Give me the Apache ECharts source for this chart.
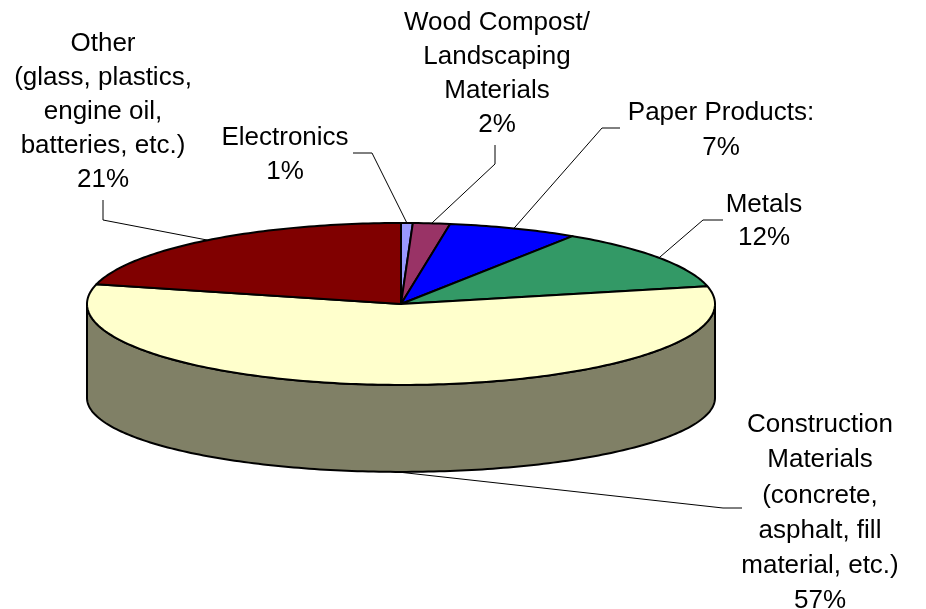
<!DOCTYPE html>
<html>
<head>
<meta charset="utf-8">
<script src="https://cdn.jsdelivr.net/npm/echarts@6/dist/echarts.min.js"></script>
<style>html,body{margin:0;padding:0;background:#fff;}#c{width:926px;height:609px;}</style>
</head>
<body>
<div id="c"></div>
<script>
// ---- data ----
const categories = ['Electronics', 'Wood Compost/Landscaping Materials', 'Paper Products', 'Metals', 'Construction Materials', 'Other'];
const values = [0.6, 1.9, 6.7, 12.3, 57.4, 21.1];
const labelNames = [
  'Electronics',
  'Wood Compost/\nLandscaping\nMaterials',
  'Paper Products:',
  'Metals',
  'Construction\nMaterials\n(concrete,\nasphalt, fill\nmaterial, etc.)',
  'Other\n(glass, plastics,\nengine oil,\nbatteries, etc.)'
];
const faceColors = ['#9999FF', '#993366', '#0000FF', '#339966', '#FFFFCC', '#800000'];

// ---- layout (pixels) ----
const labelLayout = [
  {x: 285, y: 155, lh: 34, start: [353, 153], elbow: [372, 153], side: false},
  {x: 497, y: 74,  lh: 34, start: [495, 145], elbow: [495, 164], side: false},
  {x: 721, y: 130, lh: 35, start: [620, 128], elbow: [602, 128], side: false},
  {x: 764, y: 221, lh: 33, start: [723, 220], elbow: [703, 220], side: false},
  {x: 820, y: 513, lh: 35.3, start: [742, 508], elbow: [723, 508], side: true},
  {x: 103, y: 112, lh: 34, start: [103, 200], elbow: [103, 220], side: false}
];
const DEPTH = 94 / 81;   // offset of the bottom ellipse centre (in top-ellipse radii)
const BOT = 74 / 81;     // vertical radius of bottom ellipse relative to top

const total = values.reduce((a, b) => a + b, 0);
const starts = [];
let acc = 0;
values.forEach(v => { starts.push(acc / total * 360); acc += v; });
const ends = starts.map((s, i) => s + values[i] / total * 360);

function shade(hex, f) {
  const n = parseInt(hex.slice(1), 16);
  const r = Math.round(((n >> 16) & 255) * f), g = Math.round(((n >> 8) & 255) * f), b = Math.round((n & 255) * f);
  return 'rgb(' + r + ',' + g + ',' + b + ')';
}
function arc(api, a, b, fn) {
  const pts = [];
  const steps = Math.max(2, Math.ceil((b - a) / 1));
  for (let k = 0; k <= steps; k++) {
    const t = (a + (b - a) * k / steps) * Math.PI / 180;
    pts.push(api.coord(fn(t)));
  }
  return pts;
}
const topFn = t => [Math.sin(t), Math.cos(t)];
const botFn = t => [Math.sin(t), -DEPTH + BOT * Math.cos(t)];

const seriesData = categories.map((c, i) => ({name: c, value: [0, 0, values[i]]}));

const chart = echarts.init(document.getElementById('c'), null, {renderer: 'canvas'});
chart.setOption({
  animation: false,
  backgroundColor: '#ffffff',
  grid: {left: 87, right: 211, top: 223, bottom: 135},
  xAxis: {type: 'value', min: -1, max: 1, show: false},
  yAxis: {type: 'value', min: -2.1, max: 1, show: false},
  series: [
    {
      type: 'custom', name: 'sides', z: 1, silent: true,
      data: seriesData,
      renderItem: function (params, api) {
        const i = params.dataIndex;
        const lo = Math.max(starts[i], 90), hi = Math.min(ends[i], 270);
        if (lo >= hi) return {type: 'group', children: []};
        const topPts = arc(api, lo, hi, topFn);
        const botPts = arc(api, lo, hi, botFn).reverse();
        return {
          type: 'polygon',
          shape: {points: topPts.concat(botPts)},
          style: {fill: shade(faceColors[i], 0.5), stroke: '#000', lineWidth: 2, lineJoin: 'round'}
        };
      }
    },
    {
      type: 'custom', name: 'tops', z: 2, silent: true,
      data: seriesData,
      renderItem: function (params, api) {
        const i = params.dataIndex;
        const centre = api.coord([0, 0]);
        const pts = [centre].concat(arc(api, starts[i], ends[i], topFn));
        const L = labelLayout[i];
        const mid = (starts[i] + ends[i]) / 2 * Math.PI / 180;
        const anchor = api.coord(L.side ? botFn(mid) : topFn(mid));
        const pct = Math.round(values[i] / total * 100) + '%';
        return {
          type: 'group',
          children: [
            {
              type: 'polygon',
              shape: {points: pts},
              style: {fill: faceColors[i], stroke: '#000', lineWidth: 2, lineJoin: 'round'}
            },
            {
              type: 'polyline', z2: 5,
              shape: {points: [L.start, L.elbow, anchor]},
              style: {stroke: '#000', lineWidth: 1, fill: null}
            },
            {
              type: 'text', z2: 6,
              x: L.x, y: L.y,
              style: {
                text: labelNames[i] + '\n' + pct,
                fill: '#000',
                font: '26px "Liberation Sans", Arial, sans-serif',
                lineHeight: L.lh,
                align: 'center',
                verticalAlign: 'middle'
              }
            }
          ]
        };
      }
    }
  ]
});
</script>
</body>
</html>
